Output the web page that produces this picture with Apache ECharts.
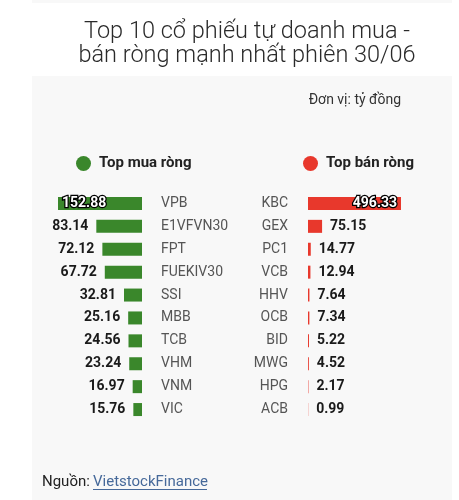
<!DOCTYPE html>
<html>
<head>
<meta charset="utf-8">
<script src="https://cdn.jsdelivr.net/npm/echarts@6/dist/echarts.min.js"></script>
<style>
  html, body { margin: 0; padding: 0; background: #fff; }
  #chart { width: 459px; height: 500px; }
</style>
</head>
<body>
<div id="chart"></div>
<script>
// Dữ liệu: top mua ròng / bán ròng (tỷ đồng)
const buyNames = ["VPB", "E1VFVN30", "FPT", "FUEKIV30", "SSI", "MBB", "TCB", "VHM", "VNM", "VIC"];
const buyValues = [152.88, 83.14, 72.12, 67.72, 32.81, 25.16, 24.56, 23.24, 16.97, 15.76];
const sellNames = ["KBC", "GEX", "PC1", "VCB", "HHV", "OCB", "BID", "MWG", "HPG", "ACB"];
const sellValues = [496.33, 75.15, 14.77, 12.94, 7.64, 7.34, 5.22, 4.52, 2.17, 0.99];

const GREEN = "#3a872b";
const RED = "#e8382c";
const FONT = "Roboto, 'Noto Sans', sans-serif";

const chart = echarts.init(document.getElementById("chart"));

// nhãn trong cột cho cột dài nhất
function buildData(values, insidePos) {
  const max = Math.max(...values);
  return values.map(v => v === max
    ? { value: v, label: { position: insidePos, color: "#fff", textBorderColor: "#000", textBorderWidth: 2.5, distance: 4 } }
    : v);
}

const valueLabel = {
  show: true,
  fontFamily: FONT,
  fontSize: 14,
  fontWeight: "bold",
  color: "#1a1a1a",
  distance: 8,
  formatter: p => p.value.toFixed(2),
};

const option = {
  animation: false,
  textStyle: { fontFamily: FONT },
  graphic: [
    { type: "rect", z: -10, shape: { x: 32, y: 76, width: 420, height: 424 }, style: { fill: "#f8f8f8" } },
    { type: "rect", z: -10, shape: { x: 32, y: 0, width: 420, height: 3 }, style: { fill: "#f8f8f8" } },
    { type: "text", x: 401, y: 100, style: { text: "Đơn vị: tỷ đồng", fontFamily: FONT, fontSize: 14, fill: "#333", align: "right", verticalAlign: "middle" } },
    { type: "text", x: 42, y: 482, style: { text: "Nguồn: ", fontFamily: FONT, fontSize: 15, fill: "#222", verticalAlign: "middle" } },
    { type: "text", x: 93, y: 482, style: { text: "VietstockFinance", fontFamily: FONT, fontSize: 15, fill: "#46699a", verticalAlign: "middle" } },
    { type: "line", shape: { x1: 93, y1: 489.5, x2: 207, y2: 489.5 }, style: { stroke: "#46699a", lineWidth: 1 } },
  ],
  title: {
    text: "Top 10 cổ phiếu tự doanh mua -\nbán ròng mạnh nhất phiên 30/06",
    left: 242,
    top: 15,
    textAlign: "center",
    textStyle: { fontFamily: FONT, fontSize: 23.5, fontWeight: 300, color: "#2a2a2a", lineHeight: 24 },
  },
  legend: [
    {
      data: ["Top mua ròng"], left: 71, top: 151, icon: "circle", itemWidth: 15, itemHeight: 15, itemGap: 0,
      textStyle: { fontFamily: FONT, fontSize: 15, fontWeight: "bold", color: "#222", padding: [0, 0, 0, 3] },
    },
    {
      data: ["Top bán ròng"], left: 298, top: 151, icon: "circle", itemWidth: 15, itemHeight: 15, itemGap: 0,
      textStyle: { fontFamily: FONT, fontSize: 15, fontWeight: "bold", color: "#222", padding: [0, 0, 0, 3] },
    },
  ],
  grid: [
    { left: 58, width: 84, top: 192, height: 229 },
    { left: 308, width: 93, top: 192, height: 229 },
  ],
  xAxis: [
    { gridIndex: 0, type: "value", min: 0, max: "dataMax", inverse: true, show: false },
    { gridIndex: 1, type: "value", min: 0, max: "dataMax", show: false },
  ],
  yAxis: [
    {
      gridIndex: 0, type: "category", data: buyNames, inverse: true, position: "right",
      axisLine: { show: false }, axisTick: { show: false },
      axisLabel: { margin: 19, align: "left", fontFamily: FONT, fontSize: 14, color: "#555" },
    },
    {
      gridIndex: 1, type: "category", data: sellNames, inverse: true, position: "left",
      axisLine: { show: false }, axisTick: { show: false },
      axisLabel: { margin: 20, align: "right", fontFamily: FONT, fontSize: 14, color: "#555" },
    },
  ],
  series: [
    {
      name: "Top mua ròng", type: "bar", xAxisIndex: 0, yAxisIndex: 0,
      data: buildData(buyValues, "insideLeft"),
      barWidth: 13,
      itemStyle: { color: GREEN },
      label: { ...valueLabel, position: "left" },
    },
    {
      name: "Top bán ròng", type: "bar", xAxisIndex: 1, yAxisIndex: 1,
      data: buildData(sellValues, "insideRight"),
      barWidth: 13,
      itemStyle: { color: RED },
      label: { ...valueLabel, position: "right" },
    },
  ],
};

chart.setOption(option);
</script>
</body>
</html>
